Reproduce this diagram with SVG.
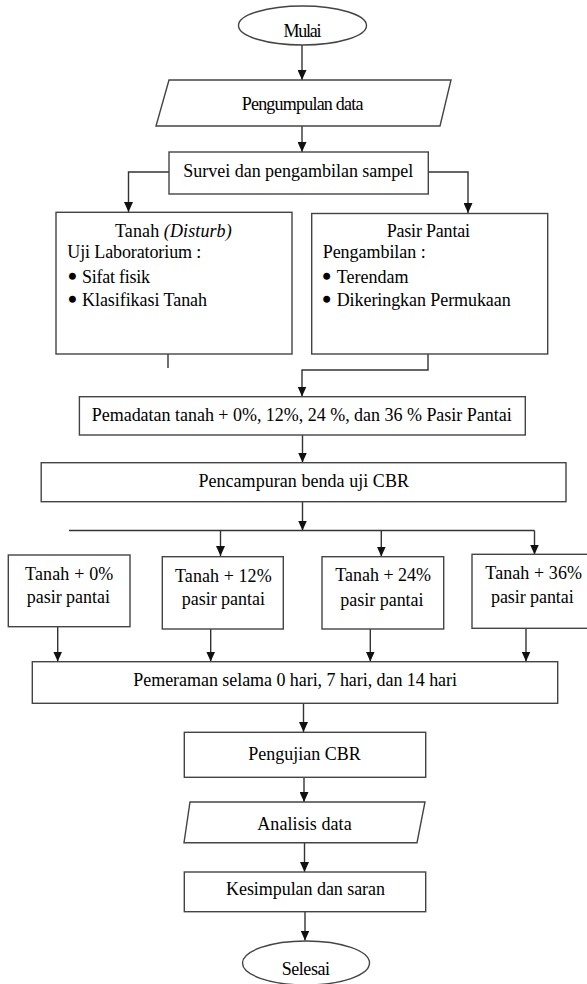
<svg xmlns="http://www.w3.org/2000/svg" width="587" height="984" viewBox="0 0 587 984">
<style>
.s{fill:#fff;stroke:#444;stroke-width:1.4}
.c{fill:none;stroke:#333;stroke-width:1.4}
text{font-family:"Liberation Serif","Times New Roman",serif;font-size:18px;fill:#000}
.m{text-anchor:middle}
.b{stroke:#000;stroke-width:2.6}
</style>
<defs>
<marker id="a" markerUnits="userSpaceOnUse" markerWidth="10" markerHeight="9" refX="10" refY="4.5" orient="auto">
<path d="M0,0 L10,4.5 L0,9 z" fill="#111"/>
</marker>
</defs>
<rect width="587" height="984" fill="#fff"/>
<g id="connectors">
<path class="c" d="M302,45 V80" marker-end="url(#a)"/>
<path class="c" d="M302,126 V152" marker-end="url(#a)"/>
<path class="c" d="M169,172 H128.5 V212" marker-end="url(#a)"/>
<path class="c" d="M428,172 H468 V213" marker-end="url(#a)"/>
<path class="c" d="M168,354 V368"/>
<path class="c" d="M428,354 V370 H302 V396.5" marker-end="url(#a)"/>
<path class="c" d="M302.5,435 V462.5" marker-end="url(#a)"/>
<path class="c" d="M302.5,501.5 V530.5" marker-end="url(#a)"/>
<path class="c" d="M69,530.5 H534.5"/>
<path class="c" d="M220.5,530.5 V556" marker-end="url(#a)"/>
<path class="c" d="M381.3,530.5 V556.5" marker-end="url(#a)"/>
<path class="c" d="M534.5,530.5 V554.5" marker-end="url(#a)"/>
<path class="c" d="M57.7,626.7 V661.5" marker-end="url(#a)"/>
<path class="c" d="M210.7,629 V661.5" marker-end="url(#a)"/>
<path class="c" d="M370.3,629 V661.5" marker-end="url(#a)"/>
<path class="c" d="M526,628.3 V661.5" marker-end="url(#a)"/>
<path class="c" d="M303.5,703.3 V732" marker-end="url(#a)"/>
<path class="c" d="M304,777.3 V802" marker-end="url(#a)"/>
<path class="c" d="M304.5,842.7 V872" marker-end="url(#a)"/>
<path class="c" d="M305,911.7 V940.5" marker-end="url(#a)"/>
</g>
<g id="mulai">
<ellipse class="s" cx="302.5" cy="25.5" rx="64" ry="19.5"/>
<text class="m" x="302.5" y="37" textLength="38">Mulai</text>
</g>
<g id="pengumpulan">
<polygon class="s" points="169,80 451,80 440,126 156,126"/>
<text x="241.7" y="110" textLength="121.7">Pengumpulan data</text>
</g>
<g id="survei">
<rect class="s" x="169" y="152" width="259.3" height="42"/>
<text x="183.3" y="177" textLength="230">Survei dan pengambilan sampel</text>
</g>
<g id="tanah">
<rect class="s" x="56" y="212.3" width="236" height="141.7"/>
<text x="115" y="237" textLength="116.7">Tanah <tspan font-style="italic">(Disturb)</tspan></text>
<text x="67.3" y="258.3" textLength="134">Uji Laboratorium :</text>
<text x="69.2" y="283.3"><tspan class="b">•</tspan><tspan x="82" textLength="68">Sifat fisik</tspan></text>
<text x="69.2" y="306"><tspan class="b">•</tspan><tspan x="82" textLength="125">Klasifikasi Tanah</tspan></text>
</g>
<g id="pasir">
<rect class="s" x="311.7" y="213.5" width="236" height="140.5"/>
<text x="386.7" y="237.3" textLength="83.3">Pasir Pantai</text>
<text x="322.7" y="258.3" textLength="103">Pengambilan :</text>
<text x="323.6" y="283.3"><tspan class="b">•</tspan><tspan x="336.7" textLength="71.7">Terendam</tspan></text>
<text x="323.6" y="306"><tspan class="b">•</tspan><tspan x="336.7" textLength="174">Dikeringkan Permukaan</tspan></text>
</g>
<g id="pemadatan">
<rect class="s" x="79.4" y="396.7" width="445.9" height="38.3"/>
<text x="91.7" y="421" textLength="420">Pemadatan tanah + 0%, 12%, 24 %, dan 36 % Pasir Pantai</text>
</g>
<g id="pencampuran">
<rect class="s" x="41.2" y="462.7" width="524.8" height="39"/>
<text x="198.4" y="487.3" textLength="210.6">Pencampuran benda uji CBR</text>
</g>
<g id="t0">
<rect class="s" x="8.3" y="555" width="121.7" height="71.7"/>
<text x="25" y="580" textLength="88.3">Tanah + 0%</text>
<text x="26.7" y="603.3" textLength="83.3">pasir pantai</text>
</g>
<g id="t12">
<rect class="s" x="162.3" y="556.7" width="121" height="72.3"/>
<text x="175" y="581.7" textLength="96.7">Tanah + 12%</text>
<text x="181.7" y="605" textLength="83.3">pasir pantai</text>
</g>
<g id="t24">
<rect class="s" x="322" y="556.7" width="121.7" height="72.3"/>
<text x="335.3" y="581" textLength="95.7">Tanah + 24%</text>
<text x="340.3" y="606" textLength="83.3">pasir pantai</text>
</g>
<g id="t36">
<rect class="s" x="472" y="554.3" width="120" height="74"/>
<text x="485.3" y="579.3" textLength="96.7">Tanah + 36%</text>
<text x="491" y="603" textLength="82.7">pasir pantai</text>
</g>
<g id="pemeraman">
<rect class="s" x="32.3" y="661.7" width="525.4" height="41.6"/>
<text x="133.3" y="686" textLength="323.7">Pemeraman selama 0 hari, 7 hari, dan 14 hari</text>
</g>
<g id="pengujian">
<rect class="s" x="184.3" y="732.3" width="241.4" height="45"/>
<text x="248.3" y="760" textLength="112.4">Pengujian CBR</text>
</g>
<g id="analisis">
<polygon class="s" points="190,802 425,802 417,842.7 184,842.7"/>
<text x="257.3" y="830" textLength="94.4">Analisis data</text>
</g>
<g id="kesimpulan">
<rect class="s" x="184.3" y="872" width="241.4" height="39.7"/>
<text x="226" y="895" textLength="159">Kesimpulan dan saran</text>
</g>
<g id="selesai">
<ellipse class="s" cx="306" cy="963" rx="63.5" ry="22"/>
<text x="281.7" y="975" textLength="48.3">Selesai</text>
</g>
</svg>
